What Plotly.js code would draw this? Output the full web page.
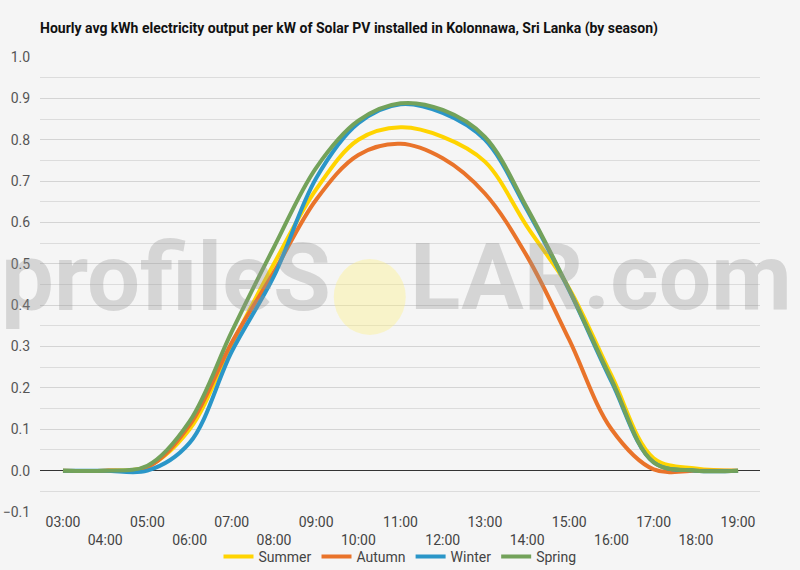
<!DOCTYPE html>
<html>
<head>
<meta charset="utf-8">
<script src="https://cdn.plot.ly/plotly-3.0.1.min.js"></script>
<style>
  html, body { margin: 0; padding: 0; background: #f5f5f5; }
  #plot { width: 800px; height: 570px; }
</style>
</head>
<body>
<div id="plot"></div>
<script>
// hour of day, 03:00 .. 19:00
var hours = [3, 4, 5, 6, 7, 8, 9, 10, 11, 12, 13, 14, 15, 16, 17, 18, 19];
var hourLabels = ['03:00', '04:00', '05:00', '06:00', '07:00', '08:00', '09:00', '10:00', '11:00',
  '12:00', '13:00', '14:00', '15:00', '16:00', '17:00', '18:00', '19:00'];

// avg kWh per kW installed
var summer = [0, 0, 0.010, 0.100, 0.305, 0.500, 0.680, 0.800, 0.830, 0.807, 0.747, 0.590, 0.440, 0.230, 0.030, 0.005, 0];
var autumn = [0, 0, 0.008, 0.110, 0.310, 0.480, 0.655, 0.763, 0.790, 0.755, 0.670, 0.518, 0.316, 0.100, 0.003, 0, 0];
var winter = [0, 0, 0, 0.067, 0.288, 0.470, 0.707, 0.840, 0.886, 0.865, 0.800, 0.630, 0.435, 0.215, 0.020, 0, 0];
var spring = [0, 0, 0.012, 0.119, 0.336, 0.540, 0.732, 0.846, 0.888, 0.872, 0.807, 0.635, 0.437, 0.220, 0.020, 0, 0];

var seasons = ['Summer', 'Autumn', 'Winter', 'Spring'];
var colors = ['#ffd400', '#e9732a', '#2a96c8', '#73a25a'];
var series = [summer, autumn, winter, spring];

// odd hours on the first row, even hours pushed to a second row
var tickText = hourLabels.map(function (l, i) {
  return i % 2 === 0 ? l : '<br>' + l;
});

var data = series.map(function (s, i) {
  return {
    x: hours,
    y: s,
    name: seasons[i],
    type: 'scatter',
    mode: 'lines',
    line: { color: colors[i], width: 4, shape: 'spline', smoothing: 1 },
    hoverinfo: 'x+y+name'
  };
});

var layout = {
  width: 800,
  height: 570,
  font: { family: 'Roboto, sans-serif', size: 14, color: '#555' },
  paper_bgcolor: '#f5f5f5',
  plot_bgcolor: '#f5f5f5',
  margin: { l: 40, r: 40, t: 57, b: 58, autoexpand: false },
  title: {
    text: '<b>Hourly avg kWh electricity output per kW of Solar PV installed in Kolonnawa, Sri Lanka (by season)</b>',
    font: { family: 'Roboto, sans-serif', size: 14, color: '#111' },
    x: 0.05, xref: 'container', xanchor: 'left',
    y: 0.951, yref: 'container', yanchor: 'middle'
  },
  xaxis: {
    range: [2.455, 19.52],
    tickvals: hours,
    ticktext: tickText,
    showgrid: false,
    zeroline: false,
    showline: false,
    ticks: '',
    automargin: false,
    tickfont: { size: 14, color: '#444' }
  },
  yaxis: {
    range: [-0.1, 1.0],
    dtick: 0.1,
    tickformat: '.1f',
    gridcolor: '#d4d4d4',
    gridwidth: 1,
    minor: { dtick: 0.05, showgrid: true, gridcolor: '#dcdcdc', gridwidth: 1 },
    zeroline: true,
    zerolinecolor: '#333',
    zerolinewidth: 1,
    showline: false,
    ticks: 'outside',
    ticklen: 6,
    tickcolor: 'rgba(0,0,0,0)',
    automargin: false,
    tickfont: { size: 14, color: '#555' }
  },
  showlegend: true,
  legend: {
    orientation: 'h',
    x: 0.5, xanchor: 'center',
    yref: 'container',
    y: 0.023, yanchor: 'middle',
    font: { size: 14, color: '#444' },
    itemwidth: 30,
    bgcolor: 'rgba(0,0,0,0)'
  },
  shapes: [{
    type: 'circle',
    xref: 'paper', yref: 'paper',
    x0: 0.408, x1: 0.508, y0: 0.389, y1: 0.556,
    fillcolor: 'rgba(255,240,120,0.35)',
    line: { width: 0 },
    layer: 'above'
  }],
  annotations: [{
    text: '<b>profileS</b>',
    xref: 'paper', yref: 'paper',
    x: 0.407, xanchor: 'right',
    y: 0.515, yanchor: 'middle',
    showarrow: false,
    font: { family: 'Roboto, sans-serif', size: 94, color: 'rgba(150,150,150,0.33)' }
  }, {
    text: '<b>LAR.com</b>',
    xref: 'paper', yref: 'paper',
    x: 0.511, xanchor: 'left',
    y: 0.515, yanchor: 'middle',
    showarrow: false,
    font: { family: 'Roboto, sans-serif', size: 93, color: 'rgba(150,150,150,0.33)' }
  }]
};

Plotly.newPlot('plot', data, layout, { displayModeBar: false, staticPlot: true });
</script>
</body>
</html>
